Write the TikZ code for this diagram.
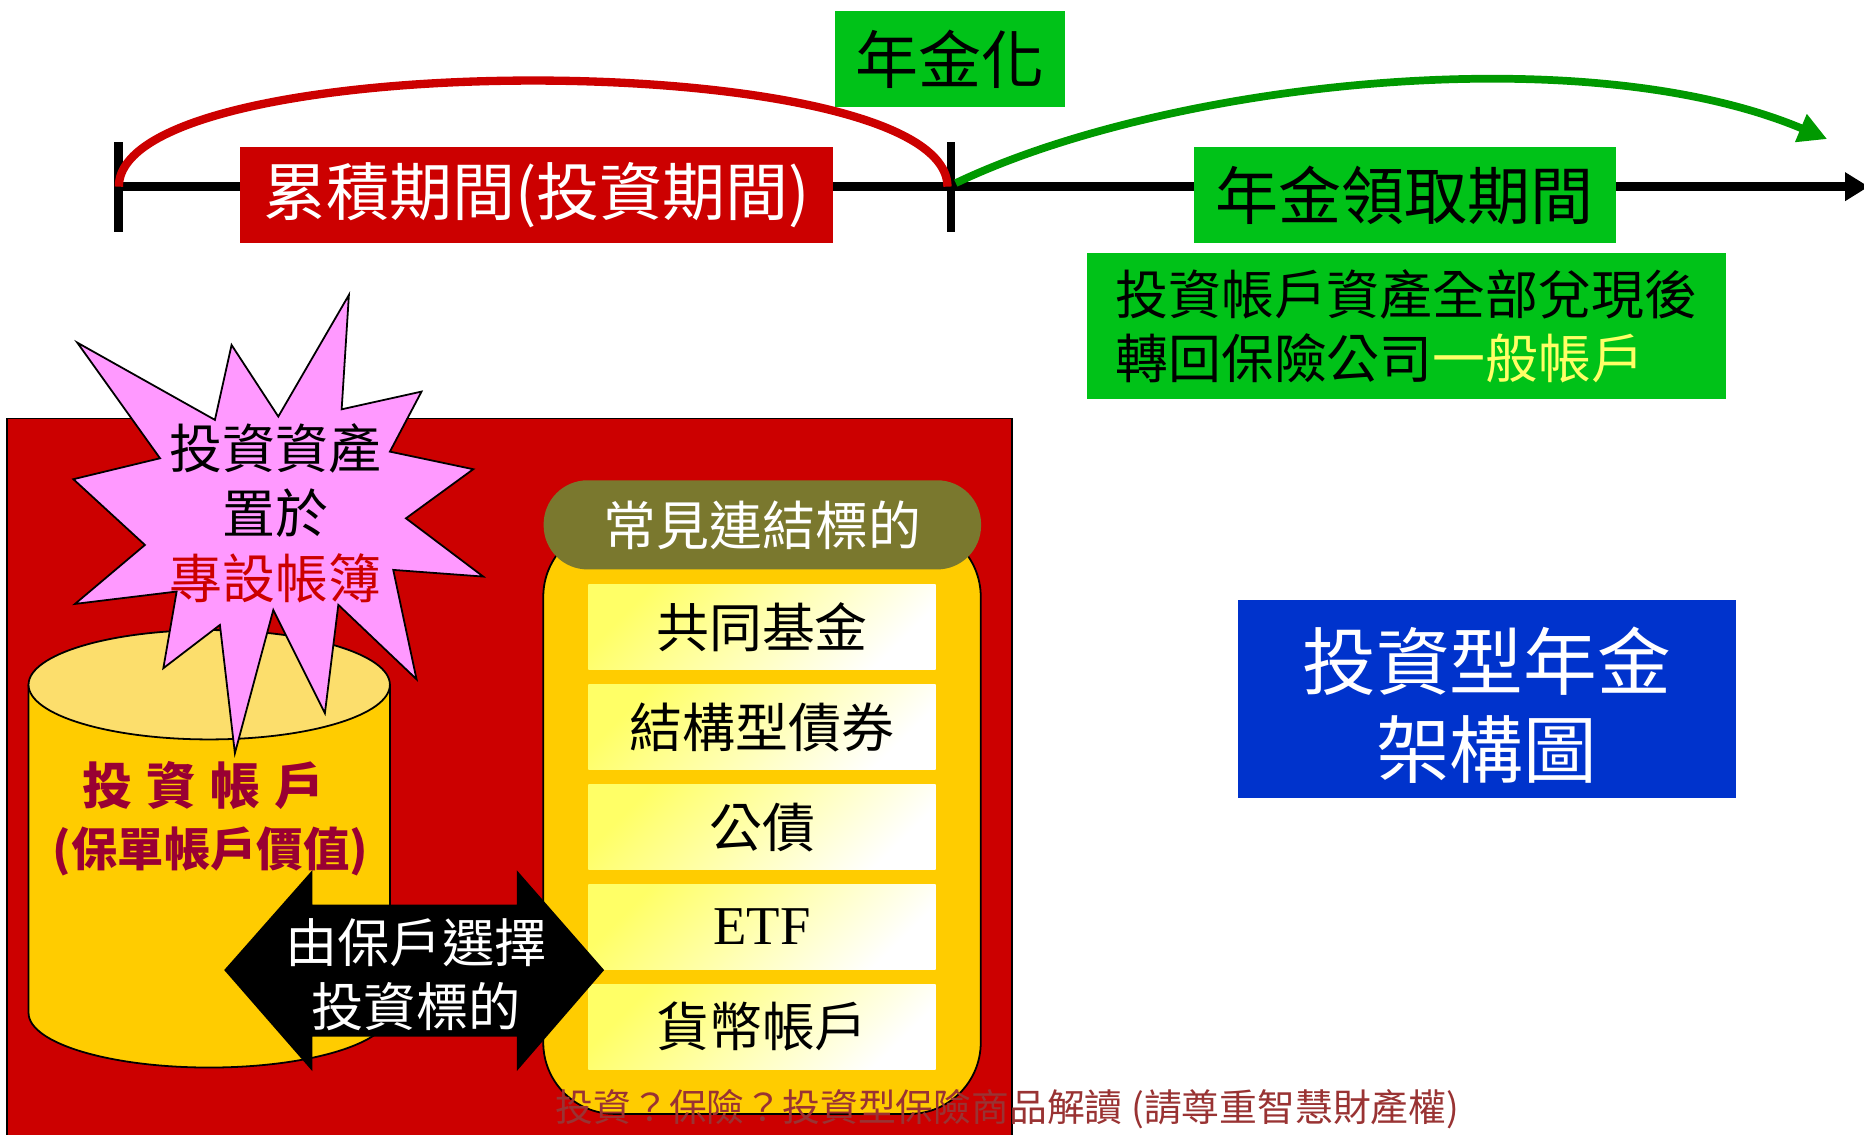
\documentclass[tikz,border=0pt]{standalone}
\usepackage{fontspec}
\setmainfont{Liberation Serif}
\newfontfamily\cjk{Noto Sans CJK TC}
\usetikzlibrary{arrows.meta}
\definecolor{myred}{RGB}{204,0,0}
\definecolor{mygreen}{RGB}{0,194,24}
\definecolor{arrgreen}{RGB}{0,153,0}
\definecolor{hdrolive}{RGB}{122,120,46}
\definecolor{cylbody}{RGB}{255,204,0}
\definecolor{cyltop}{RGB}{252,222,108}
\definecolor{pinkstar}{RGB}{255,153,255}
\definecolor{maroontxt}{RGB}{153,0,51}
\definecolor{boxblue}{RGB}{0,51,204}
\definecolor{lightyel}{RGB}{255,255,102}
\definecolor{foottxt}{RGB}{153,51,51}
\tikzset{
  bigtxt/.style={font=\cjk\fontsize{53}{62}\selectfont},
  midtxt/.style={font=\cjk\fontsize{44.5}{54.5}\selectfont},
  plainbox/.style={inner sep=0pt, outer sep=0pt},
  tickmark/.style={fill=black, inner sep=0pt, minimum width=7.5pt, minimum height=76pt},
  itembox/.style={inner sep=0pt, minimum width=292pt, minimum height=71.5pt,
    top color=lightyel, bottom color=white, shading angle=45, midtxt},
  outl/.style={draw=black, line width=1.5pt}
}
\begin{document}
\begin{tikzpicture}[x=1pt,y=-1pt]
\useasboundingbox (0,0) rectangle (1568,954);

% ---------- timeline ----------
\coordinate (tl0) at (100,157);
\coordinate (tlend) at (1572,157);
\coordinate (arcR) at (797,157);
\coordinate (grS) at (804,154);
\coordinate (grE) at (1537,117);
\draw[line width=7.5pt, -{Triangle[length=20pt,width=23pt]}] (tl0) -- (tlend);
\node[tickmark] (tickA) at (100,157.5) {};
\node[tickmark] (tickB) at (800,157.5) {};

\node[plainbox, fill=myred, text=white, bigtxt, minimum width=499pt, minimum height=80pt] (accum) at (451.5,164) {累積期間(投資期間)};
\node[plainbox, fill=mygreen, bigtxt, minimum width=194pt, minimum height=81pt] (annuitize) at (799,49.5) {年金化};
\node[plainbox, fill=mygreen, bigtxt, minimum width=355pt, minimum height=80pt] (payout) at (1181.5,164) {年金領取期間};
\node[plainbox, fill=mygreen, midtxt, minimum width=538pt, minimum height=123pt, align=left] (transfer) at (1183,274.5) {投資帳戶資產全部兌現後\\轉回保險公司\textcolor{lightyel}{一般帳戶}};

\draw[myred, line width=7pt] (tl0) .. controls (100,38) and (797,38) .. (arcR);
\draw[arrgreen, line width=6.5pt, -{Triangle[length=24pt,width=24pt]}] (grS) .. controls (980,70) and (1330,30) .. (grE);

% ---------- separate account (red block) ----------
\draw[outl, fill=myred] (6,352) rectangle (851,962);

% cylinder
\fill[cylbody] (24,576) -- (24,852) arc[start angle=180, end angle=360, x radius=152pt, y radius=46pt] -- (328,576) -- cycle;
\draw[line width=1.5pt] (24,576) -- (24,852) arc[start angle=180, end angle=360, x radius=152pt, y radius=46pt] -- (328,576);
\draw[outl, fill=cyltop] (176,576) ellipse [x radius=152pt, y radius=46pt];

% starburst
\draw[outl, fill=pinkstar, line join=miter]
 (65.0,288.2) -- (180.8,353.2) -- (194.8,290.2) -- (234.1,350.4) -- (293.5,248.1)
 -- (287.4,344.3) -- (354.6,329.4) -- (328.0,379.9) -- (398.1,394.7) -- (341.5,436.0)
 -- (406.5,485.0) -- (330.8,479.4) -- (350.4,571.4) -- (284.6,508.8) -- (273.3,600.0)
 -- (229.9,513.1) -- (197.6,633.6) -- (185.0,525.7) -- (137.4,562.1) -- (148.6,497.6)
 -- (63.1,508.0) -- (121.9,458.4) -- (61.7,403.1) -- (134.6,385.5) -- cycle;
\node[midtxt, align=center, inner sep=0pt] (startxt) at (232,432) {投資資產\\置於\\\textcolor{myred}{專設帳簿}};

\node[text=maroontxt, font=\cjk\bfseries\fontsize{42}{50}\selectfont, inner sep=0pt] (acct) at (171,661) {投\hspace{12pt}資\hspace{12pt}帳\hspace{12pt}戶};
\node[text=maroontxt, font=\cjk\bfseries\fontsize{39}{46}\selectfont, inner sep=0pt] (acctval) at (177,716) {(保單帳戶價值)};

% container of linked targets
\draw[outl, fill=cylbody, rounded corners=60pt] (457,442) rectangle (825,937);
\node[plainbox, fill=hdrolive, rounded corners=37pt, minimum width=368pt, minimum height=75pt, text=white, midtxt] (hdr) at (641.3,441.5) {常見連結標的};
\node[itembox] (it1) at (641,527.75) {共同基金};
\node[itembox] (it2) at (641,611.75) {結構型債券};
\node[itembox] (it3) at (641,695.75) {公債};
\node[itembox, font=\fontsize{46}{54}\selectfont] (it4) at (641,779.75) {ETF};
\node[itembox] (it5) at (641,863.75) {貨幣帳戶};

% double arrow
\fill[black] (188.6,816) -- (262.7,732) -- (262.7,761) -- (434.7,761) -- (434.7,732) -- (508.2,816)
 -- (434.7,901) -- (434.7,872) -- (262.7,872) -- (262.7,901) -- cycle;
\node[midtxt, text=white, align=center, inner sep=0pt, font=\cjk\fontsize{44}{54}\selectfont] (choose) at (350,820) {由保戶選擇\\投資標的};

% title box
\node[plainbox, fill=boxblue, minimum width=419pt, minimum height=166pt] (title) at (1250.5,588) {};
\node[text=white, align=center, inner sep=0pt, font=\cjk\fontsize{62}{74}\selectfont] (titletxt) at (1250.5,593) {投資型年金\\架構圖};

% footer
\node[text=foottxt, inner sep=0pt, font=\cjk\fontsize{31.8}{38}\selectfont] (foot) at (847.5,933) {投資？保險？投資型保險商品解讀 (請尊重智慧財產權)};
\end{tikzpicture}
\end{document}
